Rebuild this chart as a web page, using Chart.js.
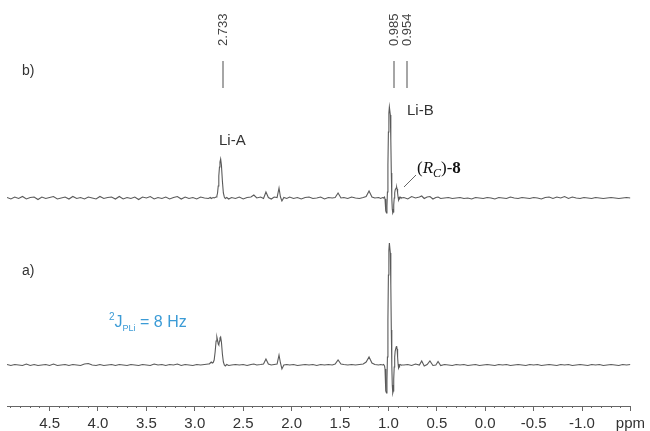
<!DOCTYPE html>
<html>
<head>
<meta charset="utf-8">
<script src="https://cdn.jsdelivr.net/npm/chart.js@4.4.0/dist/chart.umd.min.js"></script>
<style>
  html, body { margin: 0; padding: 0; background: #fff; }
  #wrap { width: 650px; height: 431px; position: relative; }
</style>
</head>
<body>
<div id="wrap"><canvas id="nmr-chart"></canvas></div>
<script>
// chemical shift grid (ppm), shared by both traces
const ppm = [
  4.94, 4.90, 4.86, 4.82, 4.78, 4.74, 4.70, 4.66, 4.62, 4.58,
  4.54, 4.50, 4.46, 4.42, 4.38, 4.34, 4.30, 4.26, 4.22, 4.18,
  4.14, 4.10, 4.06, 4.02, 3.98, 3.94, 3.90, 3.86, 3.82, 3.78,
  3.74, 3.70, 3.66, 3.62, 3.58, 3.54, 3.50, 3.46, 3.42, 3.38,
  3.34, 3.30, 3.26, 3.22, 3.18, 3.14, 3.10, 3.06, 3.02, 2.98,
  2.94, 2.90, 2.86,
  // Li-A
  2.85, 2.84, 2.83, 2.82, 2.81, 2.80, 2.79, 2.78, 2.772, 2.765,
  2.758, 2.752, 2.745, 2.74, 2.733, 2.725, 2.715, 2.705, 2.695, 2.685,
  2.67, 2.65, 2.62,
  2.58, 2.54, 2.50, 2.46, 2.42, 2.39, 2.36, 2.32, 2.29, 2.265,
  2.24, 2.21, 2.18, 2.15, 2.13, 2.115, 2.10, 2.08, 2.05, 2.02,
  1.98, 1.94, 1.90, 1.86, 1.82, 1.78, 1.74, 1.70, 1.66, 1.62,
  1.58, 1.55, 1.52, 1.49, 1.46, 1.42, 1.38, 1.34, 1.30, 1.26,
  1.23, 1.20, 1.17, 1.14, 1.10, 1.08,
  // Li-B
  1.06, 1.05, 1.04, 1.035, 1.03, 1.025, 1.02, 1.015, 1.01, 1.005,
  1.00, 0.995, 0.99, 0.985, 0.98, 0.975, 0.97, 0.965, 0.96, 0.955,
  0.95, 0.945, 0.94, 0.935, 0.93, 0.92, 0.915, 0.91, 0.905, 0.90,
  0.895, 0.89, 0.885, 0.88, 0.87,
  0.84, 0.80, 0.76, 0.72, 0.68, 0.656, 0.63, 0.60, 0.571, 0.54,
  0.51, 0.487, 0.46, 0.42, 0.38, 0.34, 0.30, 0.26, 0.22, 0.18,
  0.14, 0.10, 0.06, 0.02, -0.02, -0.06, -0.10, -0.14, -0.18, -0.22,
  -0.26, -0.30, -0.34, -0.38, -0.42, -0.46, -0.50, -0.54, -0.58, -0.62,
  -0.66, -0.70, -0.74, -0.78, -0.82, -0.86, -0.90, -0.94, -0.98, -1.02,
  -1.06, -1.10, -1.14, -1.18, -1.22, -1.26, -1.30, -1.34, -1.38, -1.42,
  -1.46, -1.50
];

// trace b) intensity
const intensityB = [
  0.5, -1, 1, -0.5, 1.5, -1, 0.5, 1, -1.5, 1,
  -0.5, 0.5, 1.5, -1, 0, 1, -1, 1.5, -0.5, 0.5,
  -1, 1, 0, -1, 1.5, -0.5, 0.5, 1, -1, 1.5,
  -1, 0.5, -0.5, 1, -1.5, 1, 0, 1.5, -1, 0.5,
  -0.5, 1, -1, 0.5, 1.5, -1, 1, -0.5, 0.5, -1,
  1, 0, -0.5,
  0, 0.5, -0.5, 0, 0.5, 0, 0.5, 1, 2, 5,
  12, 22, 31, 36, 39, 33, 17, 5, 1, -0.5,
  0.5, -1, 0.5,
  -0.5, 1, -1, 0.5, 1, 3, 0, 1, -0.5, 6,
  0.5, -1, 1, 0.5, 10, 1, -3, 0.5, -0.5, 1,
  -0.5, 0.5, -1, 0.5, 1, -0.5, 0, 1, -1, 0.5,
  0, 0.5, 5, 0, 0.5, -0.5, 1, 0, -0.5, 0.5,
  1.5, 7, 1, 0, 0.5, -0.5,
  0.5, 0, 1, -1, -6, -13, -15, -8, 6, 33,
  66, 85, 91, 91, 83, 58, 25, 0, -11, -15,
  -14, -7, 0, 5, 8, 10, 11, 9, 5, 1,
  -2, -1, 0, 1, 0,
  0.5, -1, 1.5, 0, 1, 2, -0.5, 1, 1.5, -1,
  0.5, 1, -0.5, 0, 0.5, -0.5, 0, 0.5, -0.5, 0,
  -1, 0.5, 0, -0.5, 0.5, 0, -1, 0.5, 0, -0.5,
  1, 0, -0.5, 0.5, 0, -0.5, 0.5, 0, -1, 0.5,
  1, -0.5, 1, 0, 1.5, -0.5, 1, 0, -0.5, 0.5,
  0, -0.5, 0.5, 0, -0.5, 0, 0.5, 0, -0.5, 0,
  0.5, 0
];

// trace a) intensity
const intensityA = [
  0.5, -0.5, 0.5, 0, -0.5, 1, -0.5, 0.5, -0.5, 0,
  0.5, -0.5, 1, -0.5, 0, 0.5, -0.5, 0.5, 0, -0.5,
  1, 1.5, 0, -0.5, 0.5, -0.5, 0, 0.5, -0.5, 0.5,
  0, -0.5, 0.5, 0, -0.5, 0.5, 0, -0.5, 1, 0,
  0.5, -0.5, 0.5, 0, 1, -0.5, 0.5, 0, -0.5, 0.5,
  0, 0.5, 1,
  1, 2, 3, 2, 2.5, 5, 13, 24, 28, 25,
  21, 20, 24, 27, 28, 23, 11, 3, 0, -1,
  0.5, -0.5, 0,
  0.5, 0, 0.5, -0.5, 0.5, 1, 0, 0.5, 1, 6,
  1, 0, 0.5, 1, 10, 2, -4, 0, 0.5, 0,
  0.5, -0.5, 0, 0.5, 0, 0.5, -0.5, 0.5, 0, 0.5,
  0, 1, 5, 1, 0.5, 0, 0.5, 0, 0.5, 1,
  3, 8, 2, 0.5, 0, 0.5,
  0, 0.5, -1, -4, -12, -26, -28, -15, 8, 45,
  90, 115, 122, 122, 112, 80, 35, 0, -20, -28,
  -26, -14, -2, 8, 14, 18, 19, 16, 8, 1,
  -3, -2, 0, 0.5, 0,
  0, 0.5, -0.5, 1, 0, 4, -1, 0.5, 4, -0.5,
  0, 3.5, -0.5, 0.5, 0, -0.5, 0.5, 0, 0.5, -0.5,
  0, 0.5, -0.5, 0, 0.5, 0, -0.5, 0.5, 0, 0.5,
  -0.5, 0, 0.5, 0, -0.5, 0.5, 0, 0.5, -0.5, 0,
  0.5, 0, -0.5, 0.5, 0, 0.5, -0.5, 0, 0.5, 0,
  -0.5, 0.5, 0, 0.5, -0.5, 0, 0.5, 0, -0.5, 0.5,
  0, 0.5
];

const peakLabels = ['2.733', '0.985', '0.954'];

const SANS = '"Liberation Sans", Arial, sans-serif';
const SERIF = '"Liberation Serif", "Times New Roman", serif';

// draw a sequence of differently styled text pieces on one baseline
function drawRuns(c, runs, x, y) {
  runs.forEach(r => {
    c.font = r.font;
    c.fillText(r.text, x, y + (r.dy || 0));
    x += c.measureText(r.text).width;
  });
}

const annotations = {
  id: 'annotations',
  afterDraw(chart) {
    const c = chart.ctx;
    c.save();

    // peak pick labels with their leader lines
    const labelX = [223, 394, 407];
    c.strokeStyle = '#888';
    c.lineWidth = 1.5;
    c.fillStyle = '#444';
    c.font = '13px ' + SANS;
    peakLabels.forEach((t, i) => {
      c.beginPath();
      c.moveTo(labelX[i], 61);
      c.lineTo(labelX[i], 88);
      c.stroke();
      c.save();
      c.translate(labelX[i], 46);
      c.rotate(-Math.PI / 2);
      c.textAlign = 'left';
      c.textBaseline = 'middle';
      c.fillText(t, 0, 0);
      c.restore();
    });

    c.fillStyle = '#333';
    c.textBaseline = 'alphabetic';
    c.textAlign = 'left';
    c.font = '14px ' + SANS;
    c.fillText('b)', 22, 75);
    c.fillText('a)', 22, 275);
    c.font = '15px ' + SANS;
    c.fillText('Li-A', 219, 145);
    c.fillText('Li-B', 407, 115);

    // (Rc)-8 tag
    c.strokeStyle = '#666';
    c.lineWidth = 1;
    c.beginPath();
    c.moveTo(404, 187);
    c.lineTo(416, 175);
    c.stroke();
    c.fillStyle = '#111';
    drawRuns(c, [
      { text: '(', font: '17px ' + SERIF },
      { text: 'R', font: 'italic 17px ' + SERIF },
      { text: 'C', font: 'italic 12px ' + SERIF, dy: 4 },
      { text: ')-', font: '17px ' + SERIF },
      { text: '8', font: 'bold 17px ' + SERIF }
    ], 417, 173);

    // coupling note
    c.fillStyle = '#3b9bd6';
    drawRuns(c, [
      { text: '2', font: '10px ' + SANS, dy: -7 },
      { text: 'J', font: '16px ' + SANS },
      { text: 'PLi', font: '9px ' + SANS, dy: 4 },
      { text: ' = 8 Hz', font: '16px ' + SANS }
    ], 109, 327);

    c.restore();
  }
};

const ctx = document.getElementById('nmr-chart').getContext('2d');
const nmrChart = new Chart(ctx, {
  type: 'line',
  data: {
    datasets: [{
      label: 'b)',
      data: ppm.map((p, i) => ({ x: p, y: intensityB[i] })),
      xAxisID: 'x',
      yAxisID: 'yb',
      borderColor: '#5a5a5a',
      borderWidth: 1.1,
      pointRadius: 0,
      tension: 0
    }, {
      label: 'a)',
      data: ppm.map((p, i) => ({ x: p, y: intensityA[i] })),
      xAxisID: 'x',
      yAxisID: 'ya',
      borderColor: '#5a5a5a',
      borderWidth: 1.1,
      pointRadius: 0,
      tension: 0
    }]
  },
  options: {
    responsive: true,
    maintainAspectRatio: false,
    animation: false,
    devicePixelRatio: 1,
    layout: { padding: { top: 0, left: 7, right: 14, bottom: 0 } },
    scales: {
      x: {
        type: 'linear',
        position: 'bottom',
        reverse: true,
        min: -1.5,
        max: 4.94,
        weight: 0,
        afterFit: scale => { scale.height = 2; },
        ticks: { display: false, stepSize: 0.1, autoSkip: false, includeBounds: false },
        grid: { display: true, drawOnChartArea: false, drawTicks: true, tickLength: 2, tickColor: '#666', tickWidth: 1 },
        border: { display: true, color: '#666', width: 1 }
      },
      xMajor: {
        type: 'linear',
        position: 'bottom',
        reverse: true,
        min: -1.5,
        max: 4.94,
        weight: 1,
        afterFit: scale => { scale.height = 23; },
        ticks: {
          stepSize: 0.5,
          autoSkip: false,
          includeBounds: false,
          maxRotation: 0,
          padding: 5,
          color: '#333',
          font: { family: SANS, size: 15, lineHeight: 1 },
          callback: v => Math.abs(v + 1.5) < 1e-6 ? 'ppm' : v.toFixed(1)
        },
        grid: { display: true, drawOnChartArea: false, tickLength: 3, tickColor: '#666', tickWidth: 1 },
        border: { display: false }
      },
      yb: { display: false, min: -208, max: 198 },
      ya: { display: false, min: -41, max: 365 }
    },
    plugins: {
      legend: { display: false },
      tooltip: { enabled: false }
    }
  },
  plugins: [annotations]
});
</script>
</body>
</html>
